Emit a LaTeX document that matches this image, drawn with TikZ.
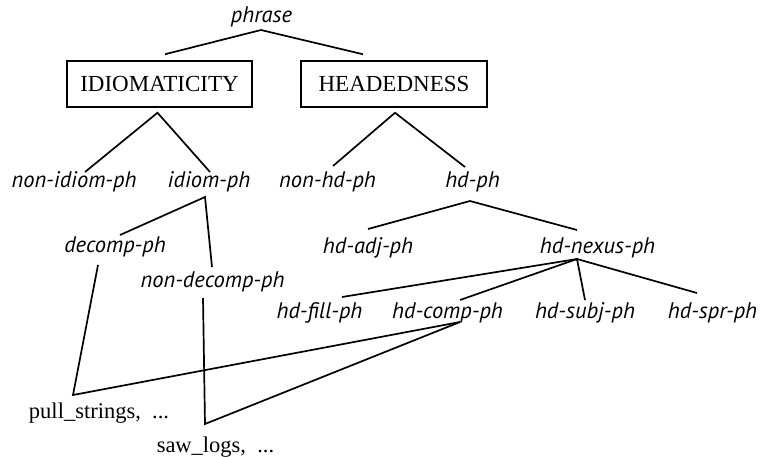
\documentclass[tikz,border=0pt]{standalone}
\usepackage{fontspec}
\setmainfont{Liberation Serif}
\newfontfamily\labfont{PT Sans}
\usetikzlibrary{calc}
\begin{document}
\begin{tikzpicture}[x=1pt,y=-1pt,
  lab/.style={font=\labfont\itshape\fontsize{22.5}{24}\selectfont, anchor=base, inner sep=0pt},
  word/.style={font=\fontsize{22.5}{24}\selectfont, anchor=base, inner sep=0pt},
  dim/.style={draw, line width=1.5pt, font=\fontsize{23}{25}\selectfont, inner sep=0pt},
  edge/.style={line width=1.7pt, line join=miter}]
\useasboundingbox (0,0) rectangle (771,456);
% nodes
\node[lab] (phrase) at (261.5,22) {phrase};
\node[dim, minimum width=185pt, minimum height=46pt] (idio) at (159.5,84) {IDIOMATICITY};
\node[dim, minimum width=186pt, minimum height=46pt] (head) at (394,84) {HEADEDNESS};
\node[lab] (nonidiom) at (74,187) {non-idiom-ph};
\node[lab] (idiom) at (209,187) {idiom-ph};
\node[lab] (nonhd) at (327.5,187) {non-hd-ph};
\node[lab] (hd) at (472.5,187) {hd-ph};
\node[lab] (decomp) at (115,252) {decomp-ph};
\node[lab] (nondecomp) at (212.5,287) {non-decomp-ph};
\node[lab] (hdadj) at (368,253) {hd-adj-ph};
\node[lab] (hdnexus) at (597.5,253) {hd-nexus-ph};
\node[lab] (hdfill) at (319.5,318) {hd-fill-ph};
\node[lab] (hdcomp) at (447.5,318) {hd-comp-ph};
\node[lab] (hdsubj) at (585,318) {hd-subj-ph};
\node[lab] (hdspr) at (712.5,318) {hd-spr-ph};
\node[word] (pull) at (99,418) {pull\_strings,\ \ ...};
\node[word] (saw) at (215.5,452) {saw\_logs,\ \ ...};
% connectors
\draw[edge] ($(idio.north)+(5.5,-6)$) -- ($(phrase.base)+(-0.5,8)$) -- ($(head.north)+(-31,-6)$);
\draw[edge] ($(nonidiom.base)+(11,-15)$) -- ($(idio.south)+(-2,5)$) -- ($(idiom.base)+(1,-15)$);
\draw[edge] ($(nonhd.base)+(5.5,-21)$) -- ($(head.south)+(1,5)$) -- ($(hd.base)+(-7.5,-20)$);
\draw[edge] ($(hdadj.base)+(0,-24)$) -- ($(hd.base)+(-2.5,14)$) -- ($(hdnexus.base)+(-20.5,-23)$);
\draw[edge] ($(decomp.base)+(5,-17)$) -- ($(idiom.base)+(-4,10)$) -- ($(nondecomp.base)+(-0.5,-20)$);
\draw[edge] ($(hdfill.base)+(22.5,-21)$) -- ($(hdnexus.base)+(-20.5,6)$) -- ($(hdspr.base)+(-15.5,-25)$);
\draw[edge] ($(hdcomp.base)+(12.5,-18)$) -- ($(hdnexus.base)+(-20.5,6)$) -- ($(hdsubj.base)+(0,-18)$);
\draw[edge] ($(decomp.base)+(-17,13)$) -- ($(pull.base)+(-26,-23)$) -- ($(hdcomp.base)+(12.5,4)$);
\draw[edge] ($(nondecomp.base)+(-9.5,11)$) -- ($(saw.base)+(-10.5,-28)$) -- ($(hdcomp.base)+(12.5,4)$);
\end{tikzpicture}
\end{document}
